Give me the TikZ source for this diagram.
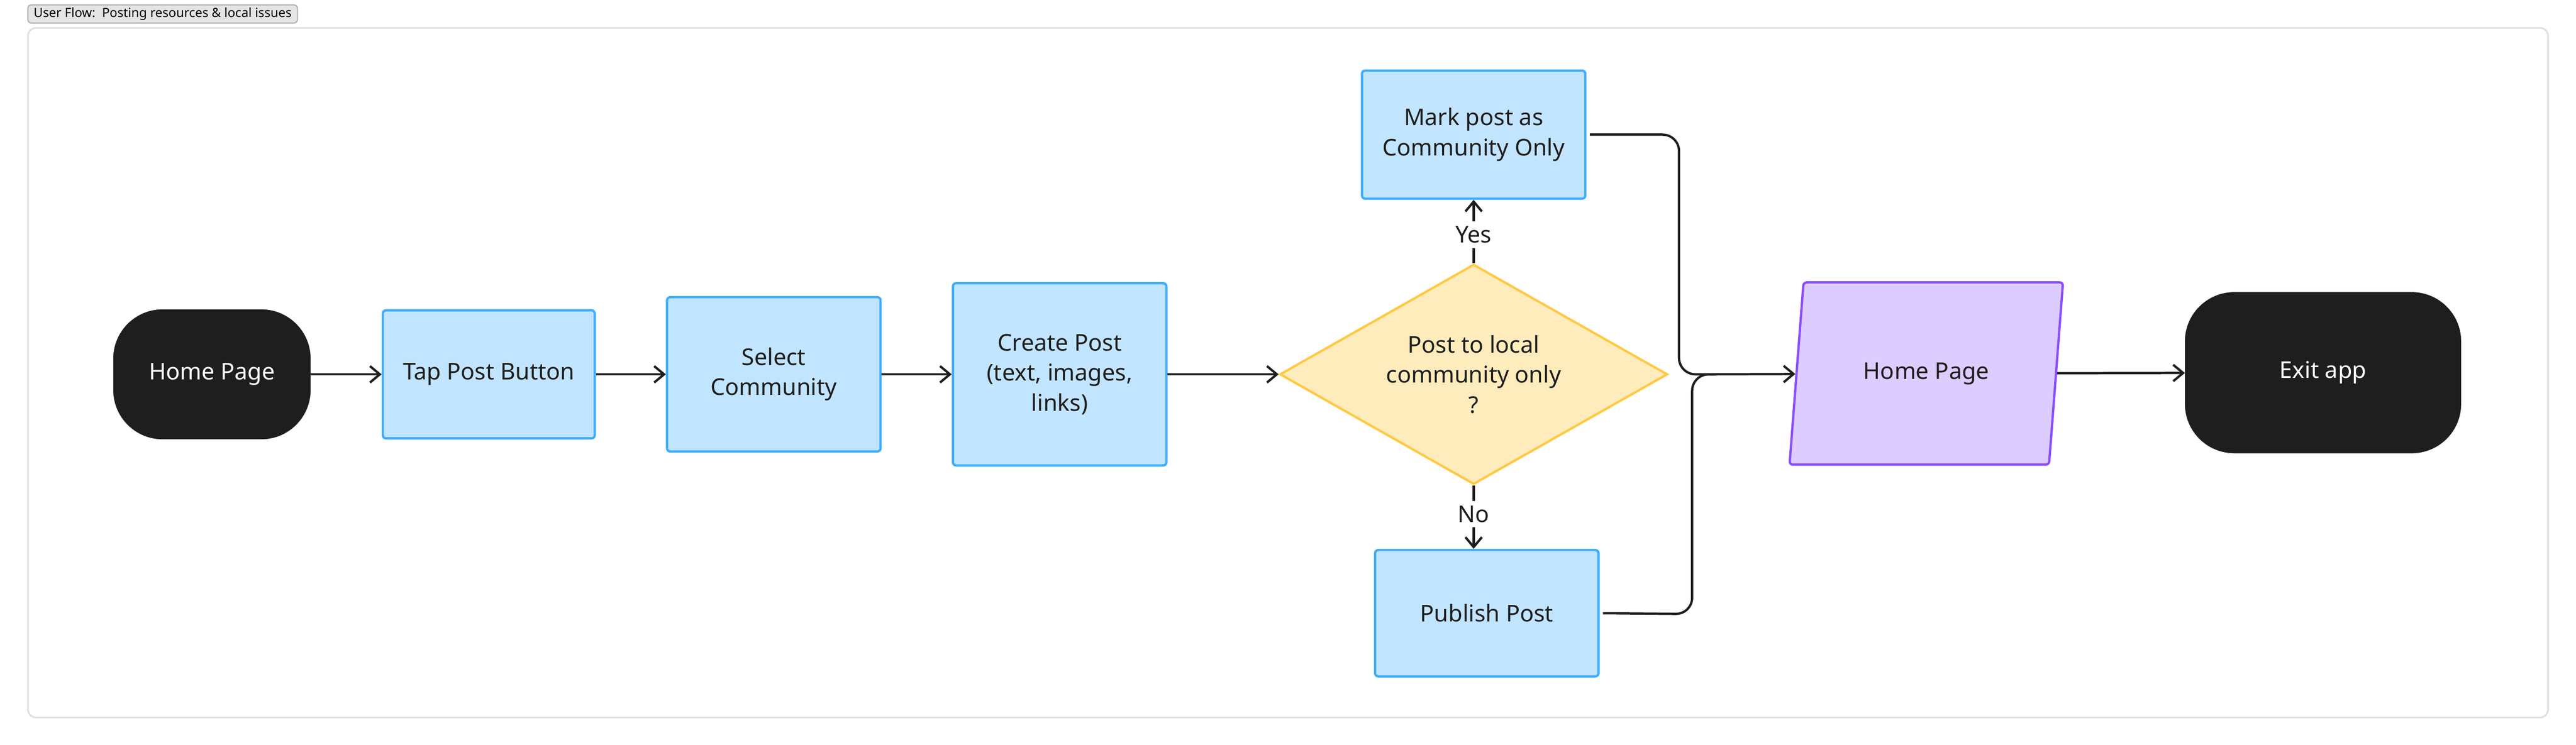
\documentclass[tikz,border=0pt]{standalone}
\usepackage{fontspec}
\setmainfont{Noto Sans}
\usetikzlibrary{arrows.meta,shapes.geometric}
\definecolor{ink}{HTML}{1E1E1E}
\definecolor{bfill}{HTML}{C2E5FF}
\definecolor{bline}{HTML}{3DADFF}
\definecolor{yfill}{HTML}{FFECBD}
\definecolor{yline}{HTML}{FFC943}
\definecolor{pfill}{HTML}{DCCCFF}
\definecolor{pline}{HTML}{8A4DFF}
\begin{document}
\begin{tikzpicture}[x=1mm,y=-1mm,
  txt/.style={font=\fontsize{40}{52}\selectfont\bfseries, text=ink, align=center},
  term/.style={txt, fill=ink, text=white, draw=ink, rounded corners=30mm},
  box/.style={txt, fill=bfill, draw=bline, line width=4pt, rounded corners=2mm},
  arr/.style={draw=ink, line width=4pt, -{Straight Barb[length=6mm,width=10mm,line width=4pt]}},
  lab/.style={txt, fill=white, inner sep=3mm}]
\useasboundingbox (0,0) rectangle (1568,453.7);
\node[draw=black!30, fill=black!10, rounded corners=2mm, line width=2pt, minimum width=164mm, minimum height=11mm, inner sep=0pt, font=\fontsize{22}{26}\selectfont] (title) at (99,8.5) {User Flow:\ \ Posting resources \& local issues};
\node[draw=black!12, line width=3pt, rounded corners=5mm, minimum width=1534mm, minimum height=420mm] (frame) at (784,227) {};
\node[term, minimum width=120mm, minimum height=79mm] (home) at (129,228) {Home Page};
\node[box, minimum width=129mm, minimum height=78mm] (tap) at (297.5,228) {Tap Post Button};
\node[box, minimum width=130mm, minimum height=94mm] (sel) at (471,228) {Select\\Community};
\node[box, minimum width=130mm, minimum height=111mm] (create) at (645,228) {Create Post\\(text, images,\\links)};
\node[txt, diamond, aspect=1.76, fill=yfill, draw=yline, line width=4pt, minimum width=236mm, minimum height=134mm, inner sep=0pt] (dec) at (897,228) {Post to local\\community only\\?};
\node[box, font=\fontsize{40}{52}\selectfont, minimum width=136mm, minimum height=78mm] (mark) at (897,82) {Mark post as\\Community Only};
\node[box, minimum width=136mm, minimum height=77mm] (pub) at (905,373.5) {Publish Post};
\node[txt, trapezium, trapezium left angle=72, trapezium right angle=108, trapezium stretches=true, fill=pfill, draw=pline, line width=4pt, rounded corners=2mm, minimum width=167mm, minimum height=111mm, inner sep=0pt] (para) at (1172.5,227.5) {Home Page};
\node[term, minimum width=168mm, minimum height=98mm] (exit) at (1414,227) {Exit app};
\coordinate (m) at (1040,228);
\draw[arr] (home) -- (tap);
\draw[arr] (tap) -- (sel);
\draw[arr] (sel) -- (create);
\draw[arr] (create) -- (dec);
\draw[arr] (dec.north) -- node[lab, pos=0.45] {Yes} (mark.south);
\draw[arr] (dec.south) -- node[lab, pos=0.45] {No} (dec.south |- pub.north);
\draw[draw=ink, line width=4pt, rounded corners=10mm] ([xshift=2mm]mark.east) -- (1022,82) -- (1022,228) -- (m);
\draw[draw=ink, line width=4pt, rounded corners=10mm] ([xshift=2mm]pub.east) -- (1030,374) -- (1030,228) -- (1045,228);
\draw[arr] (m) -- (para);
\draw[arr] (para) -- (exit);
\end{tikzpicture}
\end{document}
